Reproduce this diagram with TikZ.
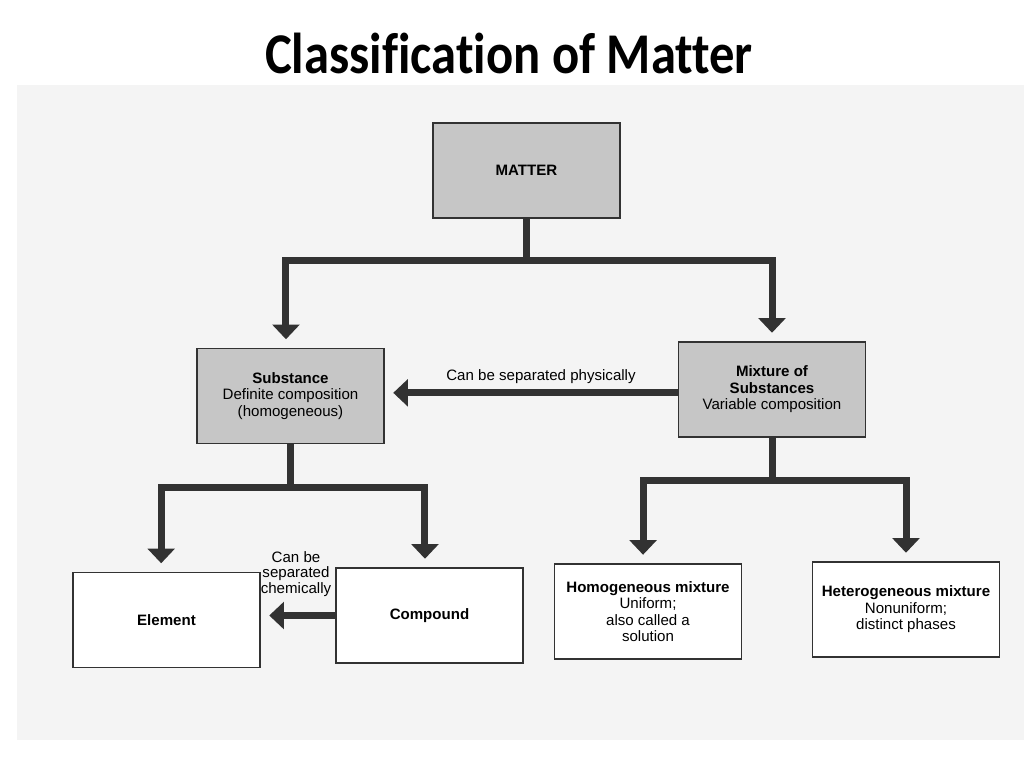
\documentclass[tikz,border=0pt]{standalone}
\usepackage{fontspec}
\setsansfont{Liberation Sans}
\newfontfamily\titlefont[Ligatures=CommonOff]{Carlito}
\usetikzlibrary{arrows.meta}
\definecolor{boxgray}{RGB}{198,198,198}
\definecolor{inkgray}{RGB}{50,50,50}
\definecolor{scangray}{RGB}{244,244,244}
\tikzset{
  box/.style={draw=inkgray,line width=1.1pt,minimum width=140pt,minimum height=71pt,inner sep=2pt,align=center,font=\sffamily\fontsize{11.3}{12.4}\selectfont},
  shaded/.style={box,fill=boxgray},
  plain/.style={box,fill=white},
  conn/.style={draw=inkgray,line width=5.25pt,-{Triangle[width=20pt,length=11pt]},shorten >=6.5pt},
  lbl/.style={align=center,font=\sffamily\fontsize{11.3}{11.8}\selectfont}
}
\begin{document}
\begin{tikzpicture}[x=0.75pt,y=-0.75pt]
    \useasboundingbox (0,0) rectangle (1024,768);
    \fill[white] (0,0) rectangle (1024,768);
    \fill[scangray] (17,85) rectangle (1024,740);
    \node[font=\titlefont\bfseries\fontsize{37.6}{40}\selectfont,anchor=base,inner sep=0pt] (title) at (509,73) {\scalebox{1.01}[1.15]{Classification of Matter}};
    \node[shaded] (matter) at (526.5,170.5) {\textbf{MATTER}};
    \node[shaded] (subst) at (290.5,396) {\textbf{Substance}\\Definite composition\\(homogeneous)};
    \node[shaded] (mix) at (772,389.5) {\textbf{Mixture of}\\\textbf{Substances}\\Variable composition};
    \node[plain] (elem) at (166.5,620) {\textbf{Element}};
    \node[plain] (comp) at (429.5,615.5) {\textbf{Compound}};
    \node[plain] (homog) at (648,611.5) {\textbf{Homogeneous mixture}\\Uniform;\\also called a\\solution};
    \node[plain] (heterog) at (906,609.5) {\textbf{Heterogeneous mixture}\\Nonuniform;\\distinct phases};
    \draw[conn] (matter.south) -- ++(0,42) -| ([xshift=-3.4pt]subst.north);
    \draw[conn] (matter.south) -- ++(0,42) -| (mix.north);
    \draw[conn] (subst.south) -- ++(0,43) -| ([xshift=-4pt]elem.north);
    \draw[conn] (subst.south) -- ++(0,43) -| ([xshift=-3.4pt]comp.north);
    \draw[conn] (mix.south) -- ++(0,43) -| ([xshift=-3.7pt]homog.north);
    \draw[conn] (mix.south) -- ++(0,43) -| (heterog.north);
    \node[lbl] (phys) at (541,377) {Can be separated physically};
    \draw[conn] ([yshift=-2.5pt]mix.west) -- ([yshift=-2.5pt]mix.west -| subst.east);
    \node[lbl] (chem) at (296,574) {Can be\\separated\\chemically};
    \draw[conn] (comp.west) -- (comp.west -| elem.east);
\end{tikzpicture}
\end{document}
